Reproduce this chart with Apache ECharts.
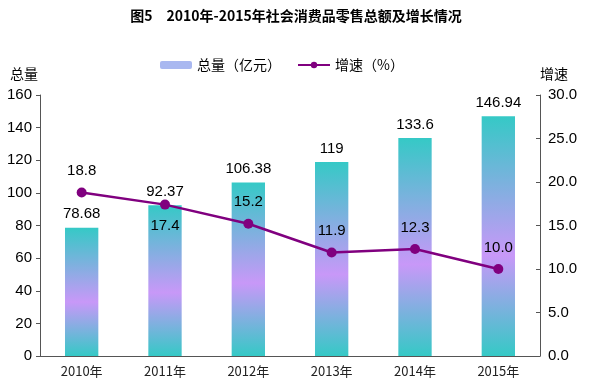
<!DOCTYPE html>
<html><head><meta charset="utf-8">
<script src="https://cdn.jsdelivr.net/npm/echarts@6/dist/echarts.min.js"></script>
<style>html,body{margin:0;padding:0;background:#fff}#c{width:592px;height:387px}</style>
</head><body><div id="c"></div>
<script>
const categories = ['2010年','2011年','2012年','2013年','2014年','2015年'];
const totalValues = [78.68, 92.37, 106.38, 119, 133.6, 146.94];
const growthValues = [18.8, 17.4, 15.2, 11.9, 12.3, 10.0];
const growthLabelPos = ['top','bottom','top','top','top','top'];

const chart = echarts.init(document.getElementById('c'));
const grad = new echarts.graphic.LinearGradient(0,0,0,1,[
  {offset:0,color:'#35c9c6'},
  {offset:0.58,color:'#c898f8'},
  {offset:1,color:'#35c9c6'}
]);
chart.setOption({
  animation:false,
  title:{text:'图5　2010年-2015年社会消费品零售总额及增长情况',left:'center',top:4,
    textStyle:{fontFamily:'Noto Sans CJK SC',fontWeight:'bold',fontSize:14,color:'#000'}},
  legend:{top:53,left:155,itemGap:16,itemWidth:32,itemHeight:8,
    textStyle:{fontFamily:'Noto Sans CJK SC',fontSize:14,color:'#000'},
    data:[{name:'总量（亿元）',itemStyle:{color:'#a9b8f0'}},{name:'增速（%）'}]},
  grid:{left:40,right:52,top:95,bottom:31},
  xAxis:{type:'category',data:categories,
    axisLine:{lineStyle:{color:'#555'}},
    axisTick:{inside:true,length:4,lineStyle:{color:'#555'}},
    axisLabel:{fontFamily:'Noto Sans CJK SC',fontSize:13,color:'#222',margin:9}},
  yAxis:[{type:'value',min:0,max:160,interval:20,name:'总量',nameGap:14,
    nameTextStyle:{fontFamily:'Noto Sans CJK SC',fontSize:14,color:'#000',align:'right',padding:[0,2,0,0]},
    axisLine:{show:true,lineStyle:{color:'#555'}},axisTick:{show:true,length:4,lineStyle:{color:'#555'}},
    splitLine:{show:false},
    axisLabel:{fontFamily:'Arial',fontSize:15,color:'#000',margin:8}},
   {type:'value',min:0,max:30,interval:5,name:'增速',nameGap:14,position:'right',
    nameTextStyle:{fontFamily:'Noto Sans CJK SC',fontSize:14,color:'#000',align:'left',padding:[0,0,0,0]},
    axisLine:{show:true,lineStyle:{color:'#555'}},axisTick:{show:true,inside:true,length:4,lineStyle:{color:'#555'}},
    splitLine:{show:false},
    axisLabel:{fontFamily:'Arial',fontSize:15,color:'#000',margin:8,formatter:v=>v.toFixed(1)}}],
  series:[
    {name:'总量（亿元）',type:'bar',barWidth:'40%',data:totalValues,
      itemStyle:{color:grad},
      label:{show:true,position:'top',fontFamily:'Arial',fontSize:15,color:'#000',distance:6}},
    {name:'增速（%）',type:'line',yAxisIndex:1,
      data:growthValues.map((v,i)=>({value:v,label:{position:growthLabelPos[i]}})),
      symbol:'circle',symbolSize:10,
      lineStyle:{color:'#80007f',width:2.5},itemStyle:{color:'#80007f'},
      label:{show:true,fontFamily:'Arial',fontSize:15,color:'#000',distance:9,formatter:p=>p.value.toFixed(1)}}
  ]
});
</script></body></html>
